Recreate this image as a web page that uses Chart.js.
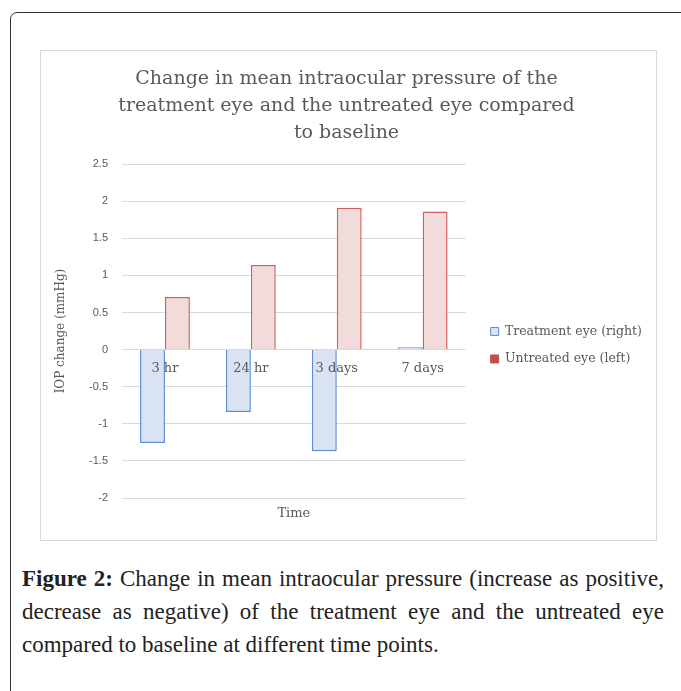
<!DOCTYPE html>
<html>
<head>
<meta charset="utf-8">
<script src="https://cdn.jsdelivr.net/npm/chart.js@4.4.1/dist/chart.umd.min.js"></script>
<style>
  body { margin: 0; background: #fff; width: 681px; height: 691px; overflow: hidden; position: relative; }
  #frame {
    position: absolute; left: 10px; top: 12px; width: 700px; height: 720px;
    border: 1.5px solid #333; border-radius: 7px; box-sizing: border-box;
  }
  #box {
    position: absolute; left: 40px; top: 50px; width: 617px; height: 491px;
    border: 1px solid #d9d9d9; box-sizing: border-box;
  }
  #box canvas { display: block; }
  #caption {
    position: absolute; left: 22px; top: 562px; width: 642px;
    font-family: "Liberation Serif", serif; font-size: 23px; line-height: 33px;
    color: #222;
  }
  #caption div { white-space: nowrap; }
  #caption .j { text-align: justify; text-align-last: justify; }
</style>
</head>
<body>
<div id="frame"></div>
<div id="box"><canvas id="chart" width="615" height="489"></canvas></div>
<div id="caption">
  <div class="j"><b>Figure 2:</b> Change in mean intraocular pressure (increase as positive,</div>
  <div class="j">decrease as negative) of the treatment eye and the untreated eye</div>
  <div>compared to baseline at different time points.</div>
</div>
<script>
const timeLabels = ["3 hr", "24 hr", "3 days", "7 days"];
const treatmentEye = [-1.26, -0.84, -1.37, 0.03];
const untreatedEye = [0.71, 1.14, 1.91, 1.86];
const titleLines = [
  "Change in mean intraocular pressure of the",
  "treatment eye and the untreated eye compared",
  "to baseline"
];

const gray = "#595959";
const serif = "'DejaVu Serif', serif";

// category labels sit just under the zero line, like Excel does
const zeroLabels = {
  id: "zeroLabels",
  afterDatasetsDraw(chart) {
    const ctx = chart.ctx;
    const x = chart.scales.x;
    const y0 = chart.scales.y.getPixelForValue(0);
    ctx.save();
    ctx.font = "13px " + serif;
    ctx.fillStyle = gray;
    ctx.textAlign = "center";
    ctx.textBaseline = "middle";
    timeLabels.forEach((lab, i) => {
      ctx.fillText(lab, x.getPixelForTick(i), y0 + 19);
    });
    ctx.restore();
  }
};

new Chart(document.getElementById("chart"), {
  type: "bar",
  data: {
    labels: timeLabels,
    datasets: [
      {
        label: "Treatment eye (right)",
        data: treatmentEye,
        backgroundColor: "#dae3f3",
        borderColor: "#5b8bd0",
        borderWidth: 1.5
      },
      {
        label: "Untreated eye (left)",
        data: untreatedEye,
        backgroundColor: "#f2dcdb",
        borderColor: "#d06060",
        borderWidth: 1.5
      }
    ]
  },
  options: {
    responsive: false,
    animation: false,
    layout: { padding: { top: 0, right: 4, bottom: 0, left: 0 } },
    datasets: { bar: { barPercentage: 1, categoryPercentage: 0.58 } },
    plugins: {
      title: {
        display: true,
        text: titleLines,
        color: gray,
        font: { family: serif, size: 19, weight: "normal", lineHeight: 1.44 },
        padding: { top: 14, bottom: 17 }
      },
      legend: {
        position: "right",
        align: "start",
        maxWidth: 220,
        title: {
          display: true,
          text: " ",
          font: { size: 1 },
          padding: { top: 258, bottom: 0 }
        },
        labels: {
          color: gray,
          font: { family: serif, size: 12.5 },
          boxWidth: 8,
          boxHeight: 8,
          padding: 15,
          generateLabels(chart) {
            const items = Chart.defaults.plugins.legend.labels.generateLabels(chart);
            items[1].fillStyle = "#c0504d";
            items[1].strokeStyle = "#c0504d";
            items.forEach(it => { it.lineWidth = 1; });
            return items;
          }
        }
      },
      tooltip: { enabled: false }
    },
    scales: {
      x: {
        grid: { display: false },
        border: { display: false },
        ticks: { display: false },
        title: {
          display: true,
          text: "Time",
          color: gray,
          font: { family: serif, size: 13 },
          padding: { top: 0, bottom: 19 }
        },
        afterFit(scale) { scale.height = 42; }
      },
      y: {
        min: -2,
        max: 2.5,
        ticks: {
          stepSize: 0.5,
          color: gray,
          padding: 14,
          font: { family: "'Liberation Sans', sans-serif", size: 11 },
          callback: v => String(v)
        },
        grid: { color: "#d9d9d9", lineWidth: 1, drawTicks: false },
        border: { display: false },
        title: {
          display: true,
          text: "IOP change (mmHg)",
          color: gray,
          font: { family: serif, size: 12 },
          padding: { top: 13, bottom: 0 }
        },
        afterFit(scale) { scale.width = 81; }
      },
      gap: {
        type: "linear",
        position: "right",
        display: true,
        grid: { display: false },
        border: { display: false },
        ticks: { display: false },
        afterFit(scale) { scale.width = 10; }
      }
    }
  },
  plugins: [zeroLabels]
});
</script>
</body>
</html>
